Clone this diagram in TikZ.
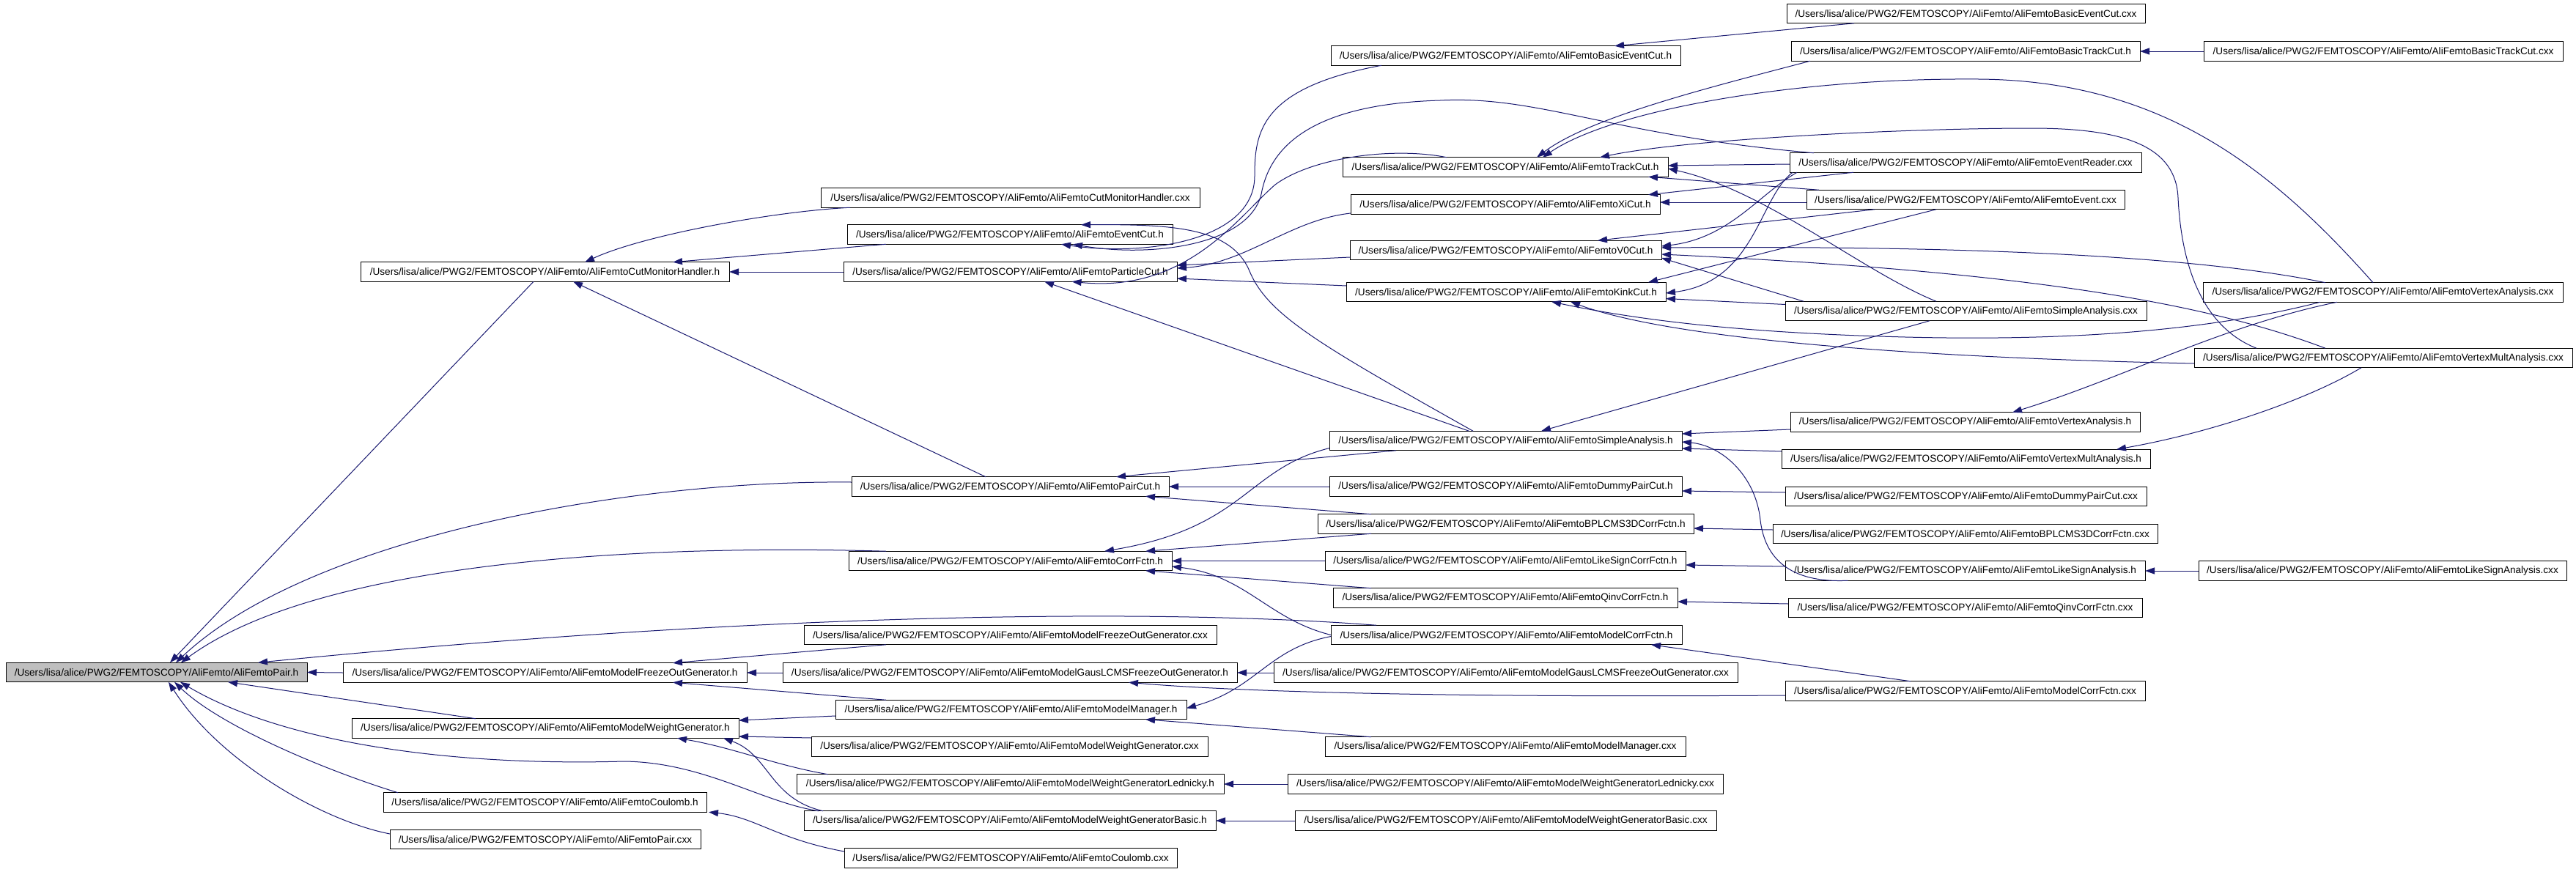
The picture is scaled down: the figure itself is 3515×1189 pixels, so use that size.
\documentclass[tikz,border=0pt]{standalone}
\usepackage{fontspec}
\setmainfont{Liberation Sans}
\usetikzlibrary{arrows.meta,calc}
\definecolor{edgeblue}{RGB}{25,25,112}
\definecolor{rootgray}{RGB}{191,191,191}
\newcommand{\fp}[1]{/Users/lisa/alice/PWG2/FEMTOSCOPY/AliFemto/#1}
\begin{document}
\begin{tikzpicture}[x=1pt,y=-1pt,
  box/.style={draw=black,line width=1pt,fill=white,minimum height=26.5pt,inner sep=0pt,outer sep=0pt,font=\fontsize{13.6}{16}\selectfont},
  edge/.style={draw=edgeblue,line width=1pt,-{Triangle[length=13pt,width=9pt]}}]
\path[use as bounding box,fill=white] (0,0) rectangle (3515,1189);
% column 0-1
\node[box,minimum width=411pt,fill=rootgray] (pair) at (213.5,917.5) {\fp{AliFemtoPair.h}};
\node[box,minimum width=503pt] (cmh) at (743.5,371) {\fp{AliFemtoCutMonitorHandler.h}};
\node[box,minimum width=551pt] (mfog) at (743.5,918) {\fp{AliFemtoModelFreezeOutGenerator.h}};
\node[box,minimum width=528pt] (mwg) at (744,994) {\fp{AliFemtoModelWeightGenerator.h}};
\node[box,minimum width=441pt] (coul) at (743.5,1095) {\fp{AliFemtoCoulomb.h}};
\node[box,minimum width=424pt] (paircxx) at (744,1145.5) {\fp{AliFemtoPair.cxx}};
% column 2
\node[box,minimum width=517pt] (cmhcxx) at (1378.5,270) {\fp{AliFemtoCutMonitorHandler.cxx}};
\node[box,minimum width=444pt] (evcut) at (1378,320) {\fp{AliFemtoEventCut.h}};
\node[box,minimum width=455pt] (partcut) at (1378.5,371) {\fp{AliFemtoParticleCut.h}};
\node[box,minimum width=433pt] (paircut) at (1378.5,664) {\fp{AliFemtoPairCut.h}};
\node[box,minimum width=441pt] (corrf) at (1378.5,765.5) {\fp{AliFemtoCorrFctn.h}};
\node[box,minimum width=563pt] (mfogcxx) at (1378.5,866.5) {\fp{AliFemtoModelFreezeOutGenerator.cxx}};
\node[box,minimum width=620pt] (gaus) at (1378,918) {\fp{AliFemtoModelGausLCMSFreezeOutGenerator.h}};
\node[box,minimum width=479pt] (mman) at (1379.5,968.5) {\fp{AliFemtoModelManager.h}};
\node[box,minimum width=541pt] (mwgcxx) at (1377.5,1019) {\fp{AliFemtoModelWeightGenerator.cxx}};
\node[box,minimum width=583pt] (led) at (1378.5,1070) {\fp{AliFemtoModelWeightGeneratorLednicky.h}};
\node[box,minimum width=562pt] (basic) at (1378,1120) {\fp{AliFemtoModelWeightGeneratorBasic.h}};
\node[box,minimum width=454pt] (coulcxx) at (1379,1171) {\fp{AliFemtoCoulomb.cxx}};
% column 3
\node[box,minimum width=477pt] (bec) at (2054.5,76) {\fp{AliFemtoBasicEventCut.h}};
\node[box,minimum width=444pt] (tcut) at (2054,228) {\fp{AliFemtoTrackCut.h}};
\node[box,minimum width=422pt] (xicut) at (2054,279) {\fp{AliFemtoXiCut.h}};
\node[box,minimum width=425pt] (v0cut) at (2054.5,341.5) {\fp{AliFemtoV0Cut.h}};
\node[box,minimum width=436pt] (kink) at (2055,398.5) {\fp{AliFemtoKinkCut.h}};
\node[box,minimum width=481pt] (sa) at (2054.5,601.5) {\fp{AliFemtoSimpleAnalysis.h}};
\node[box,minimum width=481pt] (dpc) at (2054.5,664) {\fp{AliFemtoDummyPairCut.h}};
\node[box,minimum width=513pt] (bpl) at (2054.5,715) {\fp{AliFemtoBPLCMS3DCorrFctn.h}};
\node[box,minimum width=492pt] (lscf) at (2054,765.5) {\fp{AliFemtoLikeSignCorrFctn.h}};
\node[box,minimum width=470pt] (qinv) at (2054,816) {\fp{AliFemtoQinvCorrFctn.h}};
\node[box,minimum width=479pt] (mcf) at (2055.5,866.5) {\fp{AliFemtoModelCorrFctn.h}};
\node[box,minimum width=633pt] (gauscxx) at (2054.5,918) {\fp{AliFemtoModelGausLCMSFreezeOutGenerator.cxx}};
\node[box,minimum width=492pt] (mmancxx) at (2054,1019) {\fp{AliFemtoModelManager.cxx}};
\node[box,minimum width=594pt] (ledcxx) at (2054,1070) {\fp{AliFemtoModelWeightGeneratorLednicky.cxx}};
\node[box,minimum width=575pt] (basiccxx) at (2054.5,1120) {\fp{AliFemtoModelWeightGeneratorBasic.cxx}};
% column 4
\node[box,minimum width=489pt] (becxx) at (2682.5,18.5) {\fp{AliFemtoBasicEventCut.cxx}};
\node[box,minimum width=476pt] (btc) at (2682,70) {\fp{AliFemtoBasicTrackCut.h}};
\node[box,minimum width=480pt] (erc) at (2682,222) {\fp{AliFemtoEventReader.cxx}};
\node[box,minimum width=434pt] (evcxx) at (2682,272.5) {\fp{AliFemtoEvent.cxx}};
\node[box,minimum width=493pt] (sacxx) at (2682.5,424.5) {\fp{AliFemtoSimpleAnalysis.cxx}};
\node[box,minimum width=477pt] (vah) at (2681.5,576) {\fp{AliFemtoVertexAnalysis.h}};
\node[box,minimum width=503pt] (vmah) at (2682.5,626.5) {\fp{AliFemtoVertexMultAnalysis.h}};
\node[box,minimum width=493pt] (dpccxx) at (2682.5,677.5) {\fp{AliFemtoDummyPairCut.cxx}};
\node[box,minimum width=525pt] (bplcxx) at (2681.5,728.5) {\fp{AliFemtoBPLCMS3DCorrFctn.cxx}};
\node[box,minimum width=491pt] (lsa) at (2681.5,779) {\fp{AliFemtoLikeSignAnalysis.h}};
\node[box,minimum width=483pt] (qinvcxx) at (2681.5,829.5) {\fp{AliFemtoQinvCorrFctn.cxx}};
\node[box,minimum width=491pt] (mcfcxx) at (2681.5,943) {\fp{AliFemtoModelCorrFctn.cxx}};
% column 5
\node[box,minimum width=490pt] (btccxx) at (3252,70) {\fp{AliFemtoBasicTrackCut.cxx}};
\node[box,minimum width=491pt] (vacxx) at (3251.5,399) {\fp{AliFemtoVertexAnalysis.cxx}};
\node[box,minimum width=516pt] (vmacxx) at (3252,488.5) {\fp{AliFemtoVertexMultAnalysis.cxx}};
\node[box,minimum width=502pt] (lsacxx) at (3251,779) {\fp{AliFemtoLikeSignAnalysis.cxx}};
% ---- edges into pair
\draw[edge] ($(cmh.south)+(-15.5,0)$) -- ($(pair.north)+(18.5,0)$);
\draw[edge] ($(paircut.west)+(0,-6)$) .. controls (850,655) and (420,735) .. ($(pair.north)+(26.5,0)$);
\draw[edge] ($(corrf.north)+(-169.5,0)$) .. controls (850,742) and (430,770) .. ($(pair.north)+(33.5,0)$);
\draw[edge] ($(mcf.north)+(-177.5,0)$) .. controls (1550,828) and (1000,840) .. ($(pair.north)+(138.5,0)$);
\draw[edge] (mfog.west) -- (pair.east);
\draw[edge] ($(mwg.north)+(-95,0)$) -- ($(pair.south)+(97.5,0)$);
\draw[edge] ($(basic.north)+(-261,0)$) .. controls (1040,1095) and (960,1040) .. (851,1039) .. controls (600,1046) and (380,1010) .. ($(pair.south)+(32.5,0)$);
\draw[edge] ($(coul.north)+(-200.5,0)$) .. controls (440,1050) and (300,990) .. ($(pair.south)+(24.5,0)$);
\draw[edge] ($(paircxx.west)+(0,-7.5)$) .. controls (440,1120) and (300,1040) .. ($(pair.south)+(16.5,0)$);
% ---- into cmh
\draw[edge] ($(cmhcxx.south)+(-218.5,0)$) .. controls (1060,288) and (880,320) .. ($(cmh.north)+(54.5,0)$);
\draw[edge] ($(evcut.south)+(-169,0)$) -- ($(cmh.north)+(174.5,0)$);
\draw[edge] (partcut.west) -- (cmh.east);
\draw[edge] ($(paircut.north)+(-33.5,0)$) -- ($(cmh.south)+(38.5,0)$);
% ---- into evcut
\draw[edge] ($(bec.south)+(-169.5,0)$) .. controls (1720,120) and (1712,180) .. (1712,240) .. controls (1712,330) and (1560,350) .. ($(evcut.south)+(70,0)$);
\draw[edge] ($(erc.north)+(-207,0)$) .. controls (2200,185) and (2100,130) .. (1965,137) .. controls (1790,142) and (1735,200) .. (1722,260) .. controls (1710,335) and (1570,352) .. ($(evcut.south)+(86,0)$);
\draw[edge] ($(sa.north)+(-44.5,0)$) .. controls (1800,470) and (1730,430) .. (1705,370) .. controls (1680,310) and (1600,306) .. ($(evcut.north)+(97,0)$);
% ---- into partcut
\draw[edge] ($(sa.north)+(-50,0)$) -- ($(partcut.south)+(46.5,0)$);
\draw[edge] ($(v0cut.west)+(0,9.5)$) -- ($(partcut.east)+(0,-9)$);
\draw[edge] ($(kink.west)+(0,-8.5)$) -- ($(partcut.east)+(0,9)$);
\draw[edge] ($(xicut.west)+(0,12)$) .. controls (1760,300) and (1700,360) .. ($(partcut.east)+(0,-5)$);
\draw[edge] ($(tcut.north)+(-80,0)$) .. controls (1900,200) and (1790,215) .. (1740,252) .. controls (1690,295) and (1620,400) .. ($(partcut.south)+(84,0)$);
% ---- into paircut
\draw[edge] ($(sa.south)+(-149.5,0)$) -- ($(paircut.north)+(144.5,0)$);
\draw[edge] (dpc.west) -- (paircut.east);
\draw[edge] ($(bpl.north)+(-183.5,0)$) -- ($(paircut.south)+(184.5,0)$);
% ---- into corrf
\draw[edge] ($(sa.west)+(0,10)$) .. controls (1700,640) and (1700,720) .. ($(corrf.north)+(128.5,0)$);
\draw[edge] ($(bpl.south)+(-183.5,0)$) -- ($(corrf.north)+(184.5,0)$);
\draw[edge] (lscf.west) -- (corrf.east);
\draw[edge] ($(qinv.north)+(-183,0)$) -- ($(corrf.south)+(184.5,0)$);
\draw[edge] (mcf.west) .. controls (1730,845) and (1700,785) .. ($(corrf.east)+(0,7.5)$);
% ---- model part
\draw[edge] ($(mcf.west)+(0,2)$) .. controls (1730,885) and (1715,940) .. ($(mman.east)+(0,-2)$);
\draw[edge] (gaus.west) -- (mfog.east);
\draw[edge] ($(mfogcxx.south)+(-169.5,0)$) -- ($(mfog.north)+(174.5,0)$);
\draw[edge] ($(mman.north)+(-170.5,0)$) -- ($(mfog.south)+(174.5,0)$);
\draw[edge] ($(mman.west)+(0,8.5)$) -- ($(mwg.east)+(0,-11)$);
\draw[edge] ($(mwgcxx.west)+(0,-12)$) -- ($(mwg.east)+(0,11)$);
\draw[edge] ($(led.north)+(-248.5,0)$) .. controls (1060,1045) and (1000,1020) .. ($(mwg.south)+(180,0)$);
\draw[edge] ($(basic.north)+(-255,0)$) .. controls (1050,1090) and (1050,1030) .. ($(mwg.south)+(243,0)$);
\draw[edge] ($(coulcxx.west)+(0,-9)$) .. controls (1060,1145) and (1030,1115) .. ($(coul.south)+(223.5,0)$);
\draw[edge] (gauscxx.west) -- (gaus.east);
\draw[edge] ($(mcfcxx.west)+(0,6)$) .. controls (2000,952) and (1700,945) .. ($(gaus.south)+(162,0)$);
\draw[edge] ($(mcfcxx.north)+(-74.5,0)$) -- ($(mcf.south)+(197.5,0)$);
\draw[edge] ($(mmancxx.north)+(-183,0)$) -- ($(mman.south)+(183.5,0)$);
\draw[edge] (ledcxx.west) -- (led.east);
\draw[edge] (basiccxx.west) -- (basic.east);
% ---- column 4 to 3 (lower)
\draw[edge] ($(qinvcxx.west)+(0,-5.5)$) -- ($(qinv.east)+(0,5)$);
\draw[edge] ($(dpccxx.west)+(0,-5.5)$) -- ($(dpc.east)+(0,6)$);
\draw[edge] ($(bplcxx.west)+(0,-5.5)$) -- ($(bpl.east)+(0,6)$);
\draw[edge] ($(lsa.west)+(0,-6)$) -- ($(lscf.east)+(0,5.5)$);
\draw[edge] (lsacxx.west) -- (lsa.east);
\draw[edge] ($(lsa.south)+(-160,0)$) .. controls (2440,796) and (2408,760) .. (2402,710) .. controls (2396,650) and (2350,608) .. ($(sa.east)+(0,1.5)$);
\draw[edge] ($(vah.west)+(0,10)$) -- ($(sa.east)+(0,-9.5)$);
\draw[edge] ($(vmah.west)+(0,-10.5)$) -- ($(sa.east)+(0,10.5)$);
\draw[edge] ($(sacxx.south)+(-49.5,0)$) -- ($(sa.north)+(48.5,0)$);
\draw[edge] ($(vacxx.south)+(-62.5,0)$) .. controls (3030,445) and (2900,515) .. ($(vah.north)+(64.5,0)$);
\draw[edge] ($(vmacxx.south)+(-30,0)$) .. controls (3150,545) and (3020,590) .. ($(vmah.north)+(205.5,0)$);
% ---- upper part
\draw[edge] ($(becxx.south)+(-152.5,0)$) -- ($(bec.north)+(148.5,0)$);
\draw[edge] (btccxx.west) -- (btc.east);
\draw[edge] ($(btc.south)+(-212,0)$) .. controls (2330,120) and (2170,160) .. ($(tcut.north)+(43,0)$);
\draw[edge] ($(vacxx.north)+(-13.5,0)$) .. controls (3100,230) and (2950,110) .. (2700,108) .. controls (2450,106) and (2200,150) .. ($(tcut.north)+(51,0)$);
\draw[edge] ($(vmacxx.north)+(-173,0)$) .. controls (2990,440) and (2975,330) .. (2972,270) .. controls (2969,200) and (2900,175) .. (2772,175) .. controls (2600,175) and (2300,190) .. ($(tcut.north)+(129,0)$);
\draw[edge] ($(erc.west)+(0,2)$) -- ($(tcut.east)+(0,-2)$);
\draw[edge] ($(sacxx.north)+(-40.5,0)$) .. controls (2540,370) and (2410,260) .. ($(tcut.east)+(0,2)$);
\draw[edge] ($(evcxx.north)+(-200,0)$) -- ($(tcut.south)+(195,0)$);
\draw[edge] ($(evcxx.west)+(0,3.5)$) -- ($(xicut.east)+(0,-3)$);
\draw[edge] ($(erc.south)+(-153,0)$) -- ($(xicut.north)+(195,0)$);
\draw[edge] ($(evcxx.south)+(-124,0)$) -- ($(v0cut.north)+(125.5,0)$);
\draw[edge] ($(evcxx.south)+(-40,0)$) -- ($(kink.north)+(194,0)$);
\draw[edge] ($(erc.south)+(-230,0)$) .. controls (2400,265) and (2360,325) .. ($(v0cut.east)+(0,-5.5)$);
\draw[edge] ($(erc.south)+(-236,0)$) .. controls (2400,270) and (2395,385) .. ($(kink.east)+(0,1.5)$);
\draw[edge] ($(vacxx.north)+(-78.5,0)$) .. controls (3000,350) and (2700,335) .. ($(v0cut.east)+(0,-3.5)$);
\draw[edge] ($(vmacxx.north)+(-79,0)$) .. controls (3000,410) and (2750,370) .. ($(v0cut.east)+(0,5.5)$);
\draw[edge] ($(sacxx.north)+(-221.5,0)$) -- ($(v0cut.east)+(0,10.5)$);
\draw[edge] ($(sacxx.west)+(0,-9)$) -- ($(kink.east)+(0,9)$);
\draw[edge] ($(vacxx.south)+(-85.5,0)$) .. controls (3000,455) and (2800,465) .. (2600,460) .. controls (2400,455) and (2250,440) .. ($(kink.south)+(62,0)$);
\draw[edge] ($(vmacxx.west)+(0,7.5)$) .. controls (2700,490) and (2300,470) .. ($(kink.south)+(88,0)$);
\end{tikzpicture}
\end{document}
